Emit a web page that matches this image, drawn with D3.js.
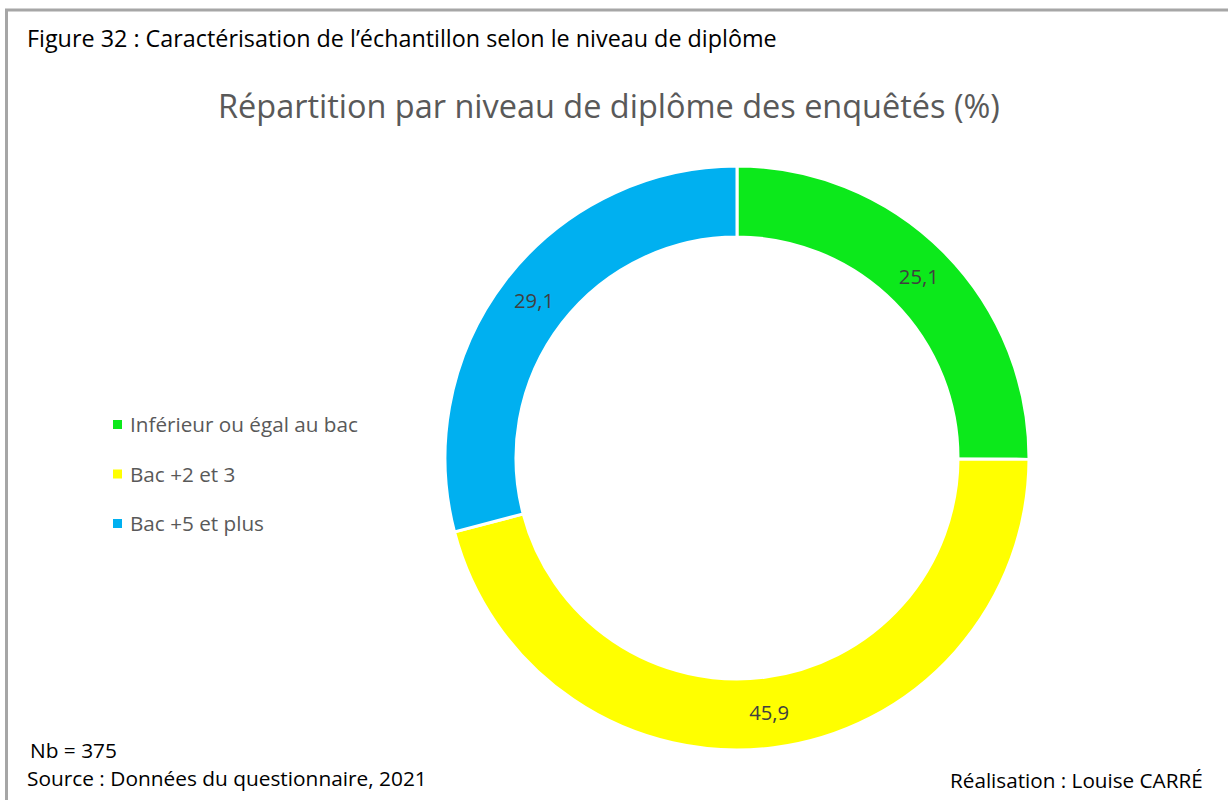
<!DOCTYPE html>
<html><head><meta charset="utf-8">
<script src="https://cdn.jsdelivr.net/npm/d3@7"></script>
<style>html,body{margin:0;padding:0;background:#fff;}svg{display:block;}</style>
</head><body>
<script>
const categories = ["Inférieur ou égal au bac", "Bac +2 et 3", "Bac +5 et plus"];
const values = [25.1, 45.9, 29.1];
const labels = ["25,1", "45,9", "29,1"];
const colors = ["#0ce91b", "#ffff00", "#00b0f0"];
const figureTitle = "Figure 32 : Caractérisation de l’échantillon selon le niveau de diplôme";
const chartTitle = "Répartition par niveau de diplôme des enquêtés (%)";
const notes = ["Nb = 375", "Source : Données du questionnaire, 2021"];
const credit = "Réalisation : Louise CARRÉ";

const W = 1228, H = 800;
const FONT = "'Open Sans', 'Noto Sans', sans-serif";
const svg = d3.select("body").append("svg").attr("width", W).attr("height", H);

// frame lines
svg.append("line").attr("x1", 5).attr("x2", W).attr("y1", 10).attr("y2", 10)
  .attr("stroke", "#a6a6a6").attr("stroke-width", 3);
svg.append("line").attr("x1", 6.5).attr("x2", 6.5).attr("y1", 9).attr("y2", H)
  .attr("stroke", "#a6a6a6").attr("stroke-width", 3);

function fit(sel, target) {
  const n = sel.node();
  const fs = parseFloat(sel.attr("font-size"));
  const w = n.getComputedTextLength();
  sel.attr("font-size", fs * target / w);
  return sel;
}

fit(svg.append("text").attr("x", 27).attr("y", 47).attr("font-family", FONT)
  .attr("font-size", 20).attr("fill", "#000").text(figureTitle), 750);

fit(svg.append("text").attr("x", 609).attr("y", 118).attr("text-anchor", "middle")
  .attr("font-family", FONT).attr("font-size", 30).attr("fill", "#595959").text(chartTitle), 782);

// donut
const cx = 737, cy = 458, rOut = 292, rIn = 221;
const pie = d3.pie().sort(null).value(d => d)(values);
const arc = d3.arc().innerRadius(rIn).outerRadius(rOut);
const g = svg.append("g").attr("transform", `translate(${cx},${cy})`);
g.selectAll("path").data(pie).join("path")
  .attr("d", arc).attr("fill", (d, i) => colors[i])
  .attr("stroke", "#fff").attr("stroke-width", 3);
const labArc = d3.arc().innerRadius((rIn + rOut) / 2).outerRadius((rIn + rOut) / 2);
g.selectAll("text").data(pie).join("text")
  .attr("transform", d => `translate(${labArc.centroid(d)})`)
  .attr("text-anchor", "middle").attr("dy", "0.35em")
  .attr("font-family", FONT).attr("font-size", 18).attr("fill", "#404040")
  .text((d, i) => labels[i])
  .each(function () { fit(d3.select(this), 40); });

// legend
const legY = d3.scalePoint().domain(categories).range([425, 524]);
const leg = svg.append("g");
categories.forEach((c, i) => {
  leg.append("rect").attr("x", 113).attr("y", legY(c) - 5).attr("width", 9).attr("height", 9)
    .attr("fill", colors[i]);
  const t = leg.append("text").attr("x", 130).attr("y", legY(c)).attr("dy", "0.35em")
    .attr("font-family", FONT).attr("font-size", 18).attr("fill", "#595959").text(c);
  if (i === 0) fit(t, 228);
});
const legFs = leg.select("text").attr("font-size");
leg.selectAll("text").attr("font-size", legFs);

// notes
const n2 = fit(svg.append("text").attr("x", 27).attr("y", 786).attr("font-family", FONT)
  .attr("font-size", 18).attr("fill", "#000").text(notes[1]), 400);
svg.append("text").attr("x", 30).attr("y", 758).attr("font-family", FONT)
  .attr("font-size", n2.attr("font-size")).attr("fill", "#000").text(notes[0]);
fit(svg.append("text").attr("x", 950).attr("y", 788).attr("font-family", FONT)
  .attr("font-size", 18).attr("fill", "#000").text(credit), 253);
</script>
</body></html>
